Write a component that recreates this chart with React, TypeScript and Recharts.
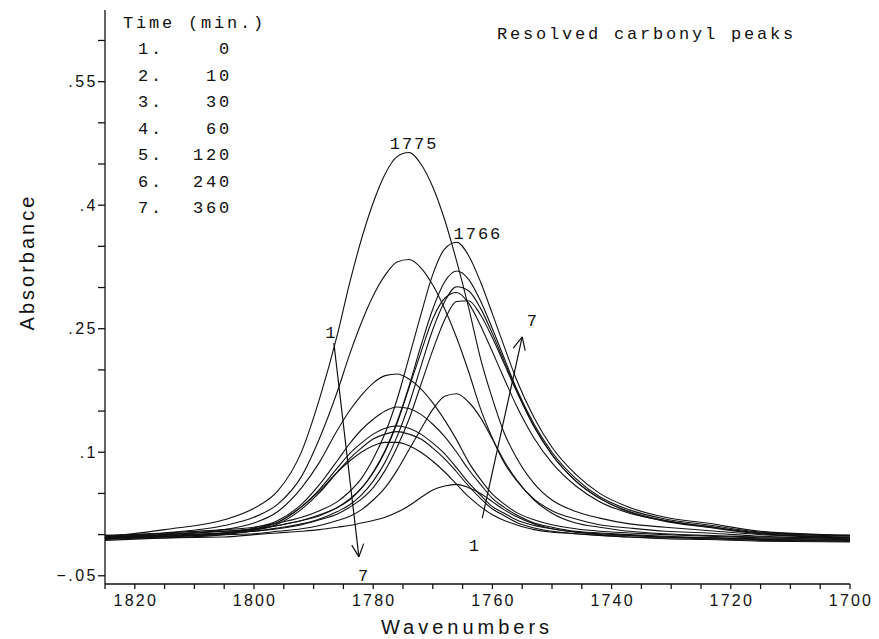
import React from 'react';
import { LineChart, Line, XAxis, YAxis, ReferenceLine, ReferenceDot } from 'recharts';

// sampled wavenumbers (cm-1), shared by every curve
const wavenumbers = [1825, 1815, 1805, 1800, 1796, 1792, 1789, 1786, 1784, 1782, 1780, 1778, 1776, 1774, 1772, 1770, 1768, 1766, 1764, 1762, 1760, 1758, 1756, 1753, 1750, 1746, 1742, 1737, 1731, 1724, 1715, 1700];

// 1775 band, times 1..7
const p1775_t0 = [-0.003, 0.006, 0.018, 0.032, 0.053, 0.101, 0.165, 0.243, 0.304, 0.358, 0.403, 0.438, 0.459, 0.464, 0.450, 0.422, 0.382, 0.332, 0.276, 0.214, 0.165, 0.123, 0.094, 0.062, 0.042, 0.028, 0.020, 0.013, 0.009, 0.005, 0.000, -0.004];
const p1775_t10 = [-0.004, 0.002, 0.011, 0.021, 0.037, 0.071, 0.117, 0.174, 0.218, 0.257, 0.290, 0.315, 0.331, 0.334, 0.324, 0.303, 0.274, 0.239, 0.198, 0.153, 0.117, 0.087, 0.066, 0.043, 0.029, 0.019, 0.012, 0.008, 0.004, 0.002, -0.002, -0.005];
const p1775_t30 = [-0.004, 0.000, 0.006, 0.014, 0.028, 0.057, 0.088, 0.127, 0.150, 0.169, 0.184, 0.193, 0.195, 0.189, 0.177, 0.160, 0.139, 0.115, 0.088, 0.067, 0.049, 0.037, 0.027, 0.018, 0.012, 0.007, 0.004, 0.002, 0.000, -0.002, -0.004, -0.006];
const p1775_t60 = [-0.005, -0.002, 0.002, 0.008, 0.017, 0.037, 0.061, 0.090, 0.110, 0.127, 0.140, 0.150, 0.155, 0.153, 0.146, 0.134, 0.119, 0.100, 0.079, 0.061, 0.044, 0.033, 0.024, 0.014, 0.009, 0.004, 0.002, 0.000, -0.002, -0.004, -0.006, -0.008];
const p1775_t120 = [-0.005, -0.002, 0.002, 0.007, 0.015, 0.034, 0.055, 0.081, 0.098, 0.111, 0.122, 0.129, 0.132, 0.129, 0.122, 0.111, 0.098, 0.081, 0.063, 0.048, 0.034, 0.026, 0.018, 0.011, 0.007, 0.003, 0.001, -0.001, -0.003, -0.004, -0.006, -0.007];
const p1775_t240 = [-0.007, -0.004, 0.000, 0.005, 0.013, 0.031, 0.051, 0.076, 0.092, 0.105, 0.116, 0.122, 0.125, 0.122, 0.116, 0.105, 0.092, 0.076, 0.059, 0.044, 0.031, 0.023, 0.015, 0.008, 0.004, 0.001, -0.001, -0.003, -0.005, -0.006, -0.008, -0.009];
const p1775_t360 = [-0.006, -0.003, 0.001, 0.006, 0.015, 0.034, 0.053, 0.076, 0.089, 0.100, 0.108, 0.112, 0.112, 0.108, 0.100, 0.089, 0.076, 0.061, 0.046, 0.034, 0.024, 0.017, 0.012, 0.006, 0.003, 0.001, -0.001, -0.003, -0.004, -0.005, -0.007, -0.008];

// 1766 band, times 1..7
const p1766_t0 = [-0.004, -0.004, -0.003, 0.000, 0.002, 0.004, 0.006, 0.009, 0.011, 0.014, 0.017, 0.021, 0.027, 0.035, 0.045, 0.054, 0.059, 0.061, 0.057, 0.050, 0.040, 0.030, 0.022, 0.013, 0.007, 0.003, 0.000, -0.001, -0.003, -0.004, -0.005, -0.006];
const p1766_t10 = [-0.004, -0.002, 0.000, 0.001, 0.004, 0.007, 0.011, 0.017, 0.022, 0.030, 0.042, 0.057, 0.078, 0.103, 0.128, 0.152, 0.168, 0.171, 0.161, 0.142, 0.116, 0.089, 0.067, 0.042, 0.026, 0.014, 0.009, 0.004, 0.001, -0.001, -0.003, -0.004];
const p1766_t30 = [-0.003, -0.001, 0.002, 0.004, 0.007, 0.012, 0.018, 0.025, 0.033, 0.043, 0.057, 0.078, 0.106, 0.140, 0.182, 0.224, 0.261, 0.283, 0.284, 0.267, 0.239, 0.207, 0.175, 0.131, 0.097, 0.065, 0.044, 0.028, 0.017, 0.010, 0.002, -0.002];
const p1766_t60 = [-0.002, 0.000, 0.004, 0.006, 0.011, 0.017, 0.023, 0.033, 0.042, 0.056, 0.075, 0.101, 0.135, 0.178, 0.221, 0.262, 0.287, 0.294, 0.281, 0.254, 0.222, 0.189, 0.157, 0.117, 0.087, 0.059, 0.040, 0.026, 0.017, 0.010, 0.002, -0.001];
const p1766_t120 = [-0.004, -0.002, 0.002, 0.004, 0.008, 0.013, 0.019, 0.028, 0.036, 0.048, 0.065, 0.088, 0.119, 0.158, 0.204, 0.249, 0.283, 0.301, 0.296, 0.275, 0.244, 0.210, 0.176, 0.131, 0.097, 0.065, 0.044, 0.027, 0.016, 0.009, 0.001, -0.003];
const p1766_t240 = [-0.001, 0.001, 0.004, 0.007, 0.011, 0.017, 0.024, 0.033, 0.043, 0.056, 0.076, 0.102, 0.137, 0.180, 0.229, 0.274, 0.307, 0.320, 0.310, 0.284, 0.250, 0.214, 0.178, 0.134, 0.100, 0.068, 0.046, 0.030, 0.019, 0.012, 0.003, -0.001];
const p1766_t360 = [-0.001, 0.002, 0.006, 0.009, 0.014, 0.021, 0.029, 0.040, 0.052, 0.068, 0.092, 0.123, 0.164, 0.215, 0.267, 0.316, 0.347, 0.355, 0.339, 0.307, 0.268, 0.228, 0.189, 0.142, 0.106, 0.073, 0.050, 0.033, 0.021, 0.014, 0.004, -0.001];

const timeMinutes = [0, 10, 30, 60, 120, 240, 360];

const xTicks = [1700, 1705, 1710, 1715, 1720, 1725, 1730, 1735, 1740, 1745, 1750, 1755, 1760, 1765, 1770, 1775, 1780, 1785, 1790, 1795, 1800, 1805, 1810, 1815, 1820, 1825];
const yTicks = [-0.05, 0, 0.05, 0.1, 0.15, 0.2, 0.25, 0.3, 0.35, 0.4, 0.45, 0.5, 0.55, 0.6];
const yTickLabels: Record<number, string> = { [-5]: '\u2212.05', 10: '.1', 25: '.25', 40: '.4', 55: '.55' };

const series1775 = [p1775_t0, p1775_t10, p1775_t30, p1775_t60, p1775_t120, p1775_t240, p1775_t360];
const series1766 = [p1766_t0, p1766_t10, p1766_t30, p1766_t60, p1766_t120, p1766_t240, p1766_t360];

const data = wavenumbers.map((wn, i) => {
  const row: Record<string, number> = { wn };
  series1775.forEach((s, k) => { row[`a${k}`] = s[i]; });
  series1766.forEach((s, k) => { row[`b${k}`] = s[i]; });
  return row;
});

// annotation arrows (data coords)
const arrowSegments = [
  [{ x: 1786.6, y: 0.2326 }, { x: 1782.4, y: -0.027 }],
  [{ x: 1782.4, y: -0.027 }, { x: 1781.6, y: -0.011 }],
  [{ x: 1782.4, y: -0.027 }, { x: 1783.6, y: -0.0128 }],
  [{ x: 1761.7, y: 0.020 }, { x: 1755.0, y: 0.240 }],
  [{ x: 1755.0, y: 0.240 }, { x: 1756.5, y: 0.2264 }],
  [{ x: 1755.0, y: 0.240 }, { x: 1754.5, y: 0.2233 }],
];

const annotations = [
  { x: 1773.3, y: 0.4755, text: '1775' },
  { x: 1762.6, y: 0.366, text: '1766' },
  { x: 1787.2, y: 0.246, text: '1' },
  { x: 1781.7, y: -0.049, text: '7' },
  { x: 1763.1, y: -0.0127, text: '1' },
  { x: 1753.4, y: 0.2606, text: '7' },
];

const mono = '"Liberation Mono", "DejaVu Sans Mono", monospace';
const sans = '"Liberation Sans", Arial, sans-serif';
const ink = '#111';

const XTick = (props: any) => {
  const { x, y, payload } = props;
  const v = payload.value;
  const label = v % 20 === 0 && v < 1825 ? String(v) : '';
  if (!label) return null;
  return (
    <text x={x + 1} y={y} dy={15} textAnchor="middle" fontFamily={sans} fontSize={16} letterSpacing={2.2} fill={ink}>
      {label}
    </text>
  );
};

const YTick = (props: any) => {
  const { x, y, payload } = props;
  const label = yTickLabels[Math.round(payload.value * 100)];
  if (!label) return null;
  return (
    <text x={x} y={y} dy={5.5} textAnchor="end" fontFamily={sans} fontSize={16} letterSpacing={2.5} fill={ink}>
      {label}
    </text>
  );
};

const App: React.FC = () => {
  return (
    <div style={{ position: 'absolute', left: 0, top: 0, width: 879, height: 639, background: '#fff' }}>
      <LineChart width={879} height={639} data={data} margin={{ top: 10, right: 29, bottom: 0, left: 0 }}>
        <XAxis
          dataKey="wn"
          type="number"
          domain={[1700, 1825]}
          reversed
          allowDataOverflow
          ticks={xTicks}
          interval={0}
          height={55}
          tickSize={5}
          tickMargin={2}
          tick={<XTick />}
          stroke={ink}
          strokeWidth={1.3}
        />
        <YAxis
          type="number"
          domain={[-0.06, 0.637]}
          allowDataOverflow
          ticks={yTicks}
          interval={0}
          width={105}
          tickSize={7}
          tickMargin={0}
          tick={<YTick />}
          stroke={ink}
          strokeWidth={1.3}
        />
        {series1775.map((_, k) => (
          <Line key={`a${k}`} dataKey={`a${k}`} type="monotone" stroke={ink} strokeWidth={1.1} dot={false} activeDot={false} isAnimationActive={false} />
        ))}
        {series1766.map((_, k) => (
          <Line key={`b${k}`} dataKey={`b${k}`} type="monotone" stroke={ink} strokeWidth={1.1} dot={false} activeDot={false} isAnimationActive={false} />
        ))}
        {arrowSegments.map((seg, i) => (
          <ReferenceLine key={`arr${i}`} segment={seg} stroke={ink} strokeWidth={1.2} ifOverflow="visible" />
        ))}
        {annotations.map((a, i) => (
          <ReferenceDot
            key={`ann${i}`}
            x={a.x}
            y={a.y}
            r={1}
            ifOverflow="visible"
            shape={(p: any) => (
              <text x={p.cx + 1} y={p.cy + 6} textAnchor="middle" fontFamily={mono} fontSize={17} letterSpacing={2} fill={ink}>
                {a.text}
              </text>
            )}
          />
        ))}
      </LineChart>
      <svg width={879} height={639} style={{ position: 'absolute', left: 0, top: 0, pointerEvents: 'none' }}>
        <text x={123} y={28} fontFamily={mono} fontSize={17} letterSpacing={2.8} fill={ink}>Time (min.)</text>
        {timeMinutes.map((t, i) => (
          <g key={t}>
            <text x={138} y={54 + i * 26.5} fontFamily={mono} fontSize={17} letterSpacing={2.8} fill={ink}>{`${i + 1}.`}</text>
            <text x={232} y={54 + i * 26.5} textAnchor="end" fontFamily={mono} fontSize={17} letterSpacing={2.8} fill={ink}>{String(t)}</text>
          </g>
        ))}
        <text x={497} y={39} fontFamily={mono} fontSize={17} letterSpacing={2.8} fill={ink}>Resolved carbonyl peaks</text>
        <text transform="translate(34,262) rotate(-90)" textAnchor="middle" fontFamily={sans} fontSize={20} letterSpacing={3} fill={ink}>Absorbance</text>
        <text x={467} y={634} textAnchor="middle" fontFamily={sans} fontSize={20} letterSpacing={4} fill={ink}>Wavenumbers</text>
      </svg>
    </div>
  );
};

export default App;
